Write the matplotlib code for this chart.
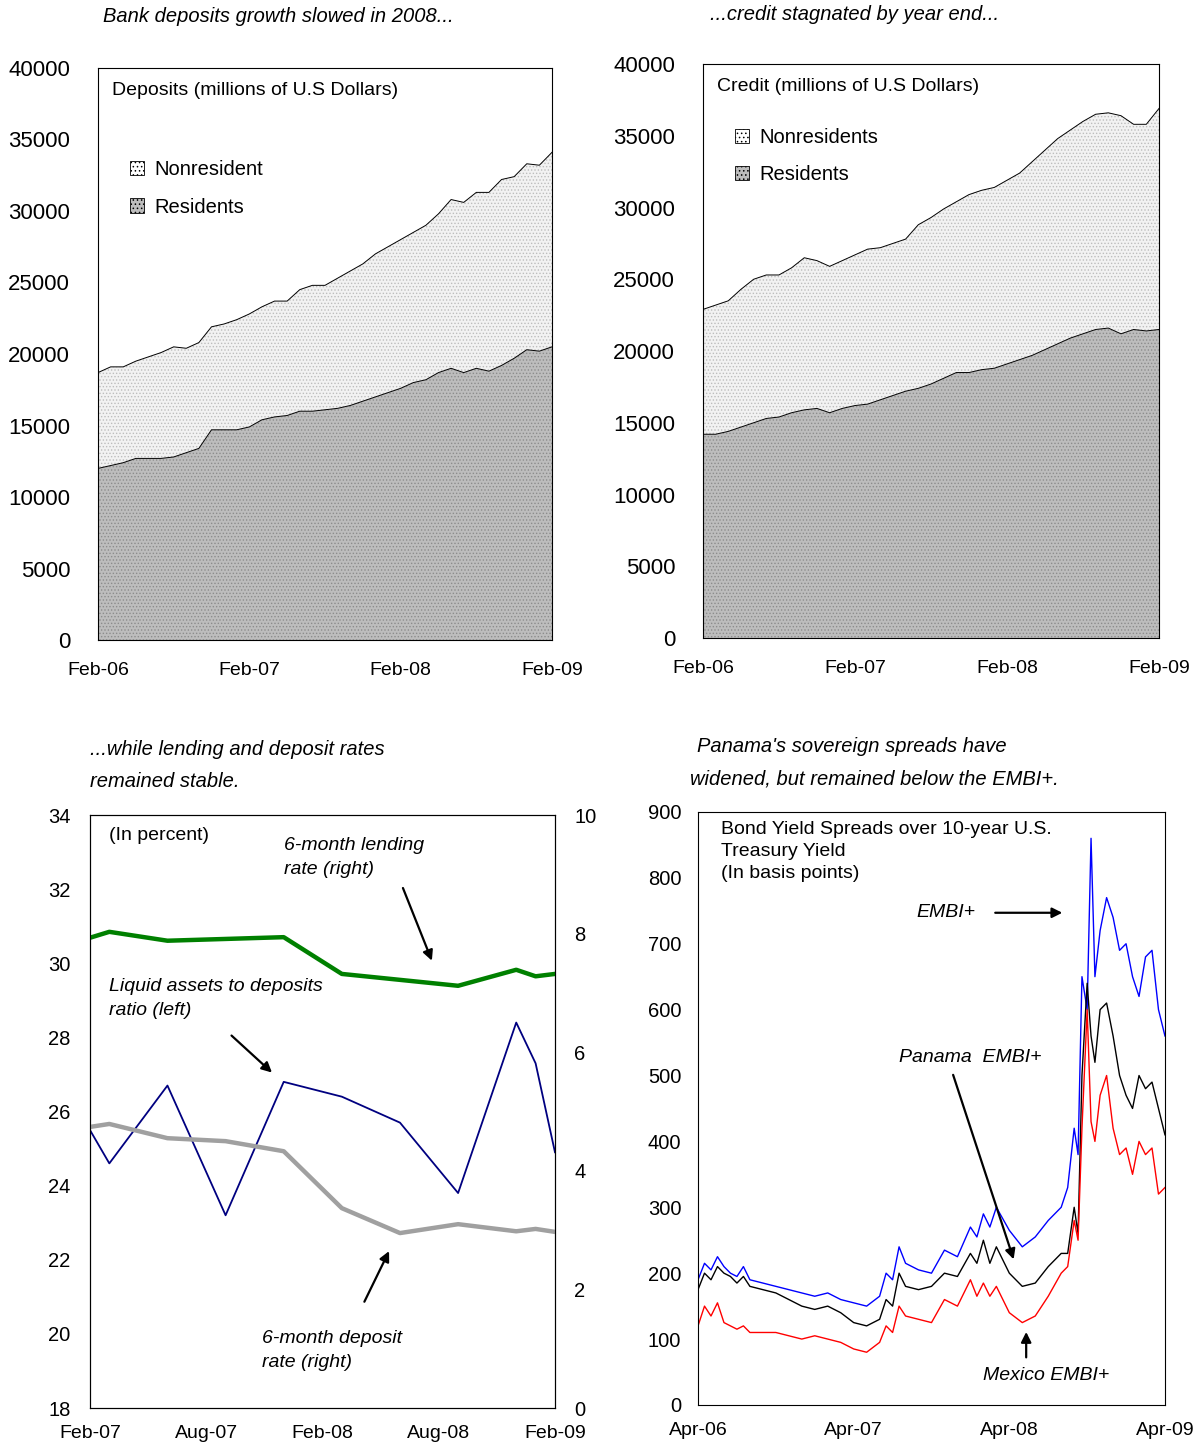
import numpy as np
import matplotlib
matplotlib.use('Agg')
import matplotlib.pyplot as plt
from matplotlib.patches import Patch

plt.rcParams['font.family'] = ['Liberation Sans', 'DejaVu Sans']
plt.rcParams['font.size'] = 13
plt.rcParams['hatch.linewidth'] = 0.6

# deposits / credit, monthly Feb-06 .. Feb-09
dep_total = [18700, 19100, 19100, 19500, 19800, 20100, 20500, 20400, 20800, 21900, 22100, 22400, 22800,
             23300, 23700, 23700, 24500, 24800, 24800, 25300, 25800, 26300, 27000, 27500, 28000, 28500,
             29000, 29800, 30800, 30600, 31300, 31300, 32200, 32400, 33300, 33200, 34100]
dep_res = [12000, 12200, 12400, 12700, 12700, 12700, 12800, 13100, 13400, 14700, 14700, 14700, 14900,
           15400, 15600, 15700, 16000, 16000, 16100, 16200, 16400, 16700, 17000, 17300, 17600, 18000,
           18200, 18700, 19000, 18700, 19000, 18800, 19200, 19700, 20300, 20200, 20500]
cred_total = [22900, 23200, 23500, 24300, 25000, 25300, 25300, 25800, 26500, 26300, 25900, 26300, 26700,
              27100, 27200, 27500, 27800, 28800, 29300, 29900, 30400, 30900, 31200, 31400, 31900, 32400,
              33200, 34000, 34800, 35400, 36000, 36500, 36600, 36400, 35800, 35800, 36900]
cred_res = [14200, 14200, 14400, 14700, 15000, 15300, 15400, 15700, 15900, 16000, 15700, 16000, 16200,
            16300, 16600, 16900, 17200, 17400, 17700, 18100, 18500, 18500, 18700, 18800, 19100, 19400,
            19700, 20100, 20500, 20900, 21200, 21500, 21600, 21200, 21500, 21400, 21500]
top_ticks = ['Feb-06', 'Feb-07', 'Feb-08', 'Feb-09']

# rates, months since Feb-07
liq_m = [0, 1, 4, 7, 10, 13, 16, 19, 22, 23, 24]
liq = [25.5, 24.6, 26.7, 23.2, 26.8, 26.4, 25.7, 23.8, 28.4, 27.3, 24.9]
lend_m = [0, 1, 4, 10, 13, 19, 22, 23, 24]
lend = [7.93, 8.03, 7.88, 7.94, 7.32, 7.12, 7.39, 7.28, 7.32]
dep_m = [0, 1, 4, 7, 10, 13, 16, 19, 22, 23, 24]
deprate = [4.74, 4.79, 4.55, 4.50, 4.33, 3.37, 2.95, 3.10, 2.98, 3.02, 2.97]
bl_ticks = ['Feb-07', 'Aug-07', 'Feb-08', 'Aug-08', 'Feb-09']

# spreads, months since Apr-06
sp_m = [0, 0.5, 1, 1.5, 2, 2.5, 3, 3.5, 4, 5, 6, 7, 8, 9, 10, 11, 12, 13, 14, 14.5, 15, 15.5, 16, 17,
        18, 19, 20, 21, 21.5, 22, 22.5, 23, 24, 25, 26, 27, 28, 28.5, 29, 29.3, 29.6, 30, 30.3, 30.6,
        31, 31.5, 32, 32.5, 33, 33.5, 34, 34.5, 35, 35.5, 36]
embi = [190, 215, 205, 225, 210, 200, 195, 210, 190, 185, 180, 175, 170, 165, 170, 160, 155, 150, 165, 200,
        190, 240, 215, 205, 200, 235, 225, 270, 255, 290, 270, 300, 265, 240, 255, 280, 300, 330, 420, 380,
        650, 600, 860, 650, 720, 770, 740, 690, 700, 650, 620, 680, 690, 600, 560]
panama = [175, 200, 190, 210, 200, 195, 185, 195, 180, 175, 170, 160, 150, 145, 150, 140, 125, 120, 130, 160,
          150, 200, 180, 175, 180, 200, 195, 230, 215, 250, 215, 240, 200, 180, 185, 210, 230, 230, 300, 260,
          500, 640, 560, 520, 600, 610, 560, 500, 470, 450, 500, 480, 490, 450, 410]
mexico = [120, 150, 135, 155, 125, 120, 115, 120, 110, 110, 110, 105, 100, 105, 100, 95, 85, 80, 95, 120,
          110, 150, 135, 130, 125, 160, 150, 190, 165, 185, 165, 180, 140, 125, 135, 165, 200, 210, 280, 250,
          420, 600, 430, 400, 470, 500, 420, 380, 390, 350, 400, 380, 390, 320, 330]
br_ticks = ['Apr-06', 'Apr-07', 'Apr-08', 'Apr-09']

fig = plt.figure(figsize=(12.01, 14.52), dpi=100)


def ftext(px, py, s, **kw):
    fig.text(px / 1201, 1 - py / 1452, s, va='center', style='italic', fontsize=14.5, **kw)


def area_panel(rect, total, res, label, names, legy):
    ax = fig.add_axes(rect)
    x = np.arange(len(total))
    ax.fill_between(x, 0, res, facecolor='#bdbdbd', edgecolor='#8c8c8c', hatch='.....', linewidth=0)
    ax.fill_between(x, res, total, facecolor='#f2f2f2', edgecolor='#bdbdbd', hatch='.....', linewidth=0)
    ax.plot(x, total, color='black', lw=0.7)
    ax.plot(x, res, color='black', lw=0.7)
    ax.set_xlim(0, 36)
    ax.set_ylim(0, 40000)
    ax.set_yticks(range(0, 40001, 5000))
    ax.set_xticks([0, 12, 24, 36])
    ax.set_xticklabels(top_ticks, fontsize=14)
    ax.tick_params(axis='y', labelsize=16, length=0, pad=20)
    ax.tick_params(axis='x', length=0, pad=16)
    ax.text(0.03, 0.975, label, transform=ax.transAxes, va='top', fontsize=14)
    h = [Patch(facecolor='white', edgecolor='black', hatch='....', linewidth=0.6),
         Patch(facecolor='#bdbdbd', edgecolor='black', hatch='....', linewidth=0.6)]
    ax.legend(h, names, loc='upper left', bbox_to_anchor=(0.03, legy), frameon=False, fontsize=14.5,
              handlelength=0.7, handleheight=0.7, labelspacing=0.9, handletextpad=0.5)
    return ax


area_panel([0.0816, 0.5592, 0.378, 0.394], dep_total, dep_res, 'Deposits (millions of U.S Dollars)',
           ['Nonresident', 'Residents'], 0.87)
area_panel([0.5853, 0.5606, 0.3797, 0.3953], cred_total, cred_res, 'Credit (millions of U.S Dollars)',
           ['Nonresidents', 'Residents'], 0.92)
ftext(103, 16, 'Bank deposits growth slowed in 2008...')
ftext(710, 14, '...credit stagnated by year end...')

# bottom left
ax = fig.add_axes([0.0749, 0.0303, 0.3872, 0.4084])
ax2 = ax.twinx()
ax.plot(liq_m, liq, color='#000080', lw=1.3)
ax2.plot(lend_m, lend, color='#008000', lw=3.2)
ax2.plot(dep_m, deprate, color='#a0a0a0', lw=3.2)
ax.set_ylim(18, 34)
ax.set_yticks(range(18, 35, 2))
ax2.set_ylim(0, 10)
ax2.set_yticks(range(0, 11, 2))
ax.set_xlim(0, 24)
ax.set_xticks([0, 6, 12, 18, 24])
ax.set_xticklabels(bl_ticks, fontsize=14)
ax.tick_params(axis='y', labelsize=14.5, length=0, pad=14)
ax2.tick_params(axis='y', labelsize=14.5, length=0, pad=14)
ax.tick_params(axis='x', length=0, pad=12)
ax.text(0.04, 0.98, '(In percent)', transform=ax.transAxes, va='top', fontsize=14)
ftext(90, 750, '...while lending and deposit rates')
ftext(90, 782, 'remained stable.')
arr = dict(arrowstyle='-|>', color='black', lw=1.6, mutation_scale=15)
ax.text(10, 33.4, '6-month lending\nrate (right)', fontsize=14, style='italic', va='top', linespacing=1.5)
ax.annotate('', xy=(17.7, 30.0), xytext=(16.1, 32.1), arrowprops=arr)
ax.text(1, 29.6, 'Liquid assets to deposits\nratio (left)', fontsize=14, style='italic', va='top',
        linespacing=1.5)
ax.annotate('', xy=(9.5, 27.0), xytext=(7.2, 28.1), arrowprops=arr)
ax.text(8.9, 20.1, '6-month deposit\nrate (right)', fontsize=14, style='italic', va='top', linespacing=1.5)
ax.annotate('', xy=(15.5, 22.3), xytext=(14.1, 20.8), arrowprops=arr)

# bottom right
ax = fig.add_axes([0.5812, 0.0324, 0.3888, 0.4084])
ax.plot(sp_m, embi, color='#0000ff', lw=1)
ax.plot(sp_m, panama, color='black', lw=1)
ax.plot(sp_m, mexico, color='#ff0000', lw=1)
ax.set_xlim(0, 36)
ax.set_ylim(0, 900)
ax.set_yticks(range(0, 901, 100))
ax.set_xticks([0, 12, 24, 36])
ax.set_xticklabels(br_ticks, fontsize=14)
ax.tick_params(axis='y', labelsize=14.5, length=0, pad=12)
ax.tick_params(axis='x', length=0, pad=12)
ax.text(0.05, 0.985, 'Bond Yield Spreads over 10-year U.S.\nTreasury Yield\n(In basis points)',
        transform=ax.transAxes, va='top', fontsize=14, linespacing=1.4)
ftext(697, 747, "Panama's sovereign spreads have")
ftext(690, 779, 'widened, but remained below the EMBI+.')
ax.text(16.8, 747, 'EMBI+', fontsize=14, style='italic', va='center')
ax.annotate('', xy=(28.3, 747), xytext=(22.7, 747), arrowprops=arr)
ax.text(15.5, 527, 'Panama  EMBI+', fontsize=14, style='italic', va='center')
ax.annotate('', xy=(24.4, 217), xytext=(19.6, 505), arrowprops=arr)
ax.text(22, 45, 'Mexico EMBI+', fontsize=14, style='italic', va='center')
ax.annotate('', xy=(25.3, 115), xytext=(25.3, 68), arrowprops=arr)

fig.savefig('out.png', dpi=100)
